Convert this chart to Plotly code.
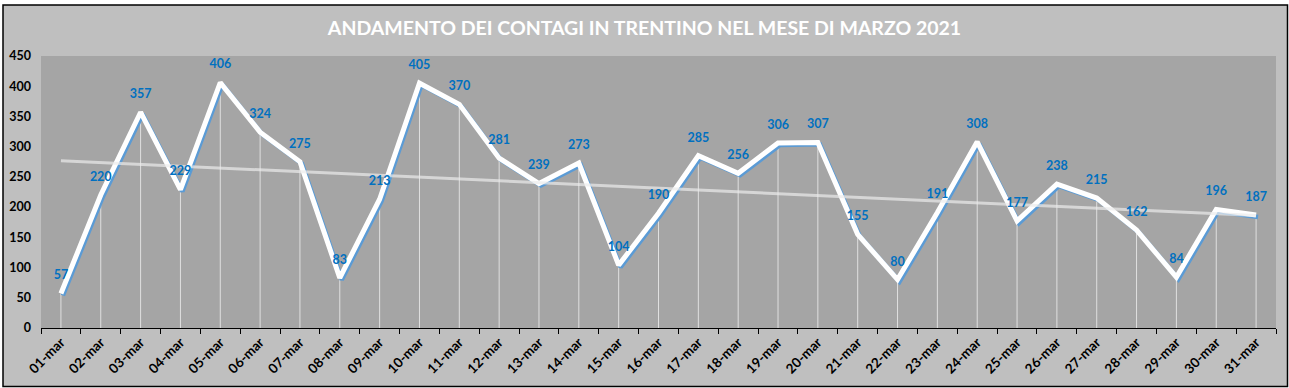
import numpy as np
import plotly.graph_objects as go

days = [f"{d:02d}-mar" for d in range(1, 32)]
contagi = [57, 220, 357, 229, 406, 324, 275, 83, 213, 405, 370, 281, 239, 273, 104,
           190, 285, 256, 306, 307, 155, 80, 191, 308, 177, 238, 215, 162, 84, 196, 187]
title_text = "ANDAMENTO DEI CONTAGI IN TRENTINO NEL MESE DI MARZO 2021"
y_ticks = [0, 50, 100, 150, 200, 250, 300, 350, 400, 450]

# linear trendline computed from the data
idx = np.arange(len(contagi))
slope, intercept = np.polyfit(idx, contagi, 1)
trend = list(slope * idx + intercept)

FONT = "Lato"
fig = go.Figure()

# drop lines (from each point down to the axis)
fig.add_trace(go.Scatter(
    x=days, y=contagi, mode="markers",
    marker=dict(size=1, opacity=0),
    error_y=dict(type="data", symmetric=False, array=[0] * len(contagi),
                 arrayminus=contagi, width=0, thickness=1,
                 color="rgba(255,255,255,0.65)"),
    hoverinfo="skip", showlegend=False))

# blue shadow of line (on slightly shifted overlay axes)
fig.add_trace(go.Scatter(
    x=days, y=contagi, mode="lines", xaxis="x2", yaxis="y2",
    line=dict(color="#5B9BD5", width=4.5), hoverinfo="skip", showlegend=False))

# main white line (overlay axes with the same range as the main axes)
fig.add_trace(go.Scatter(
    x=days, y=contagi, mode="lines", xaxis="x3", yaxis="y3",
    line=dict(color="white", width=5), showlegend=False))

# trend line
fig.add_trace(go.Scatter(
    x=days, y=trend, mode="lines", xaxis="x3", yaxis="y3",
    line=dict(color="rgba(235,235,235,0.7)", width=3),
    hoverinfo="skip", showlegend=False))

# data labels
fig.add_trace(go.Scatter(
    x=days, y=contagi, mode="markers+text", text=[str(v) for v in contagi],
    xaxis="x3", yaxis="y3",
    marker=dict(size=16, opacity=0),
    textposition="top center",
    textfont=dict(family=FONT, size=12.5, color="#0070C0", weight="bold"),
    hoverinfo="skip", showlegend=False))

L, R, T, B = 41, 13, 56, 60
W, H = 1289, 388
pw, ph = W - L - R, H - T - B

def px_x(p):
    return (p - L) / pw

def px_y(p):
    return (H - B - p) / ph

XR = [-0.5, 30.5]
YR = [0, 450]

fig.update_layout(
    width=W, height=H,
    margin=dict(l=L, r=R, t=T, b=B, autoexpand=False),
    paper_bgcolor="white",
    plot_bgcolor="#A5A5A5",
    title=dict(text=title_text, x=0.5, xref="container", xanchor="center",
               y=1 - 28 / H, yref="container", yanchor="middle",
               font=dict(family=FONT, size=19.5, color="white", weight="bold")),
    xaxis=dict(type="category", range=XR, tickangle=-45,
               tickson="boundaries", ticks="outside", ticklen=5,
               tickcolor="black", tickwidth=1.3, automargin=False,
               showline=True, linecolor="black", linewidth=1.3,
               showgrid=False, zeroline=False,
               tickfont=dict(family=FONT, size=13.5, color="black", weight="bold")),
    yaxis=dict(range=YR, tickvals=y_ticks, showgrid=False, zeroline=False,
               showline=False, ticks="", ticklabelstandoff=9, automargin=False,
               tickfont=dict(family=FONT, size=12.5, color="black", weight="bold")),
    xaxis2=dict(type="category", range=[-0.55, 30.45], overlaying="x",
                visible=False),
    yaxis2=dict(range=[3.2, 453.2], overlaying="y", visible=False),
    xaxis3=dict(type="category", range=XR, overlaying="x", visible=False),
    yaxis3=dict(range=YR, overlaying="y", visible=False),
    shapes=[
        dict(type="rect", xref="paper", yref="paper",
             x0=px_x(3), x1=px_x(1287.5), y0=px_y(386.5), y1=px_y(5),
             fillcolor="#BFBFBF", line=dict(color="black", width=1.5),
             layer="below"),
        dict(type="rect", xref="paper", yref="paper",
             x0=0, x1=1, y0=0, y1=1,
             fillcolor="#A5A5A5", line=dict(width=0), layer="below"),
    ],
)

fig.write_html("out.html", config={"displayModeBar": False},
               post_script="document.body.style.margin='0';document.body.style.overflow='hidden';")
